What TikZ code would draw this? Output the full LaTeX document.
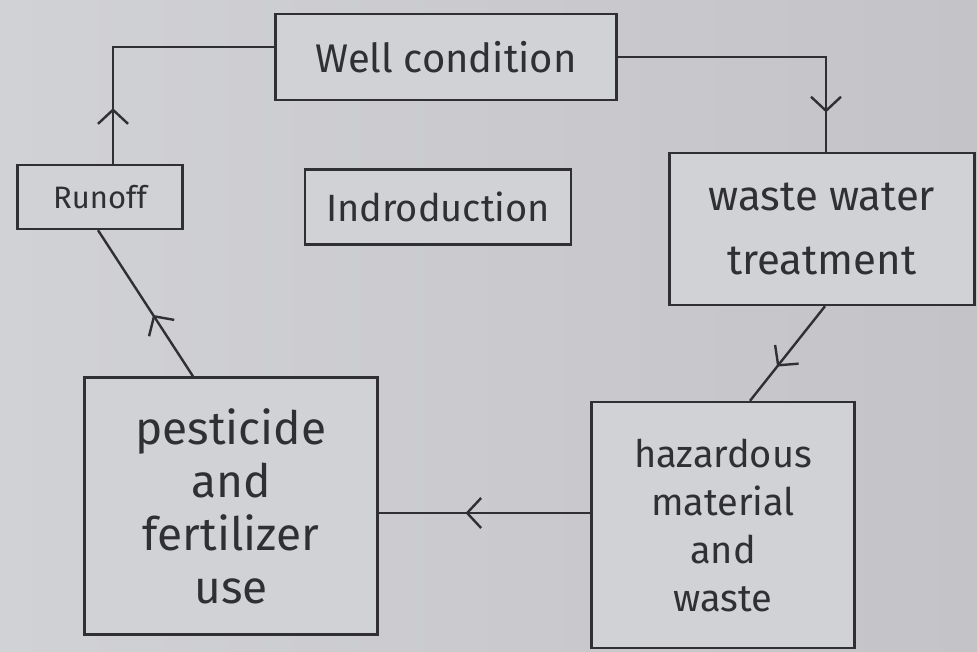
\documentclass[tikz,border=0pt]{standalone}
\usepackage{fontspec}
\setmainfont{Fira Sans}
\usetikzlibrary{arrows.meta,decorations.markings}
\definecolor{paper}{RGB}{209,210,214}
\definecolor{paperdark}{RGB}{196,195,199}
\definecolor{ink}{RGB}{48,48,52}
\tikzset{
  box/.style={draw=ink, line width=2.4pt, fill=paper, inner sep=0pt, align=center,
     text=ink, font=\fontsize{40}{52}\selectfont},
  link/.style={draw=ink, line width=2.4pt},
  midarrow/.style={postaction={decorate}, decoration={markings,
     mark=at position #1 with {\arrow[line width=2.4pt]{Straight Barb[length=14pt,width=30pt]}}}}
}
\begin{document}
\begin{tikzpicture}[x=1pt,y=-1pt]
  \shade[left color=paper, right color=paperdark] (0,0) rectangle (977,651);
  \useasboundingbox (0,0) rectangle (977,651);
  \node[box, minimum width=341pt, minimum height=86pt] (well) at (446,57) {Well condition};
  \node[box, minimum width=165pt, minimum height=64pt, font=\fontsize{31}{34}\selectfont] (runoff) at (100,197) {Runoff};
  \node[box, minimum width=266pt, minimum height=75pt, font=\fontsize{38}{40}\selectfont] (intro) at (438,207) {Indroduction};
  \node[box, minimum width=305pt, minimum height=152pt, font=\fontsize{42}{64}\selectfont] (waste) at (822,229) {waste water\\treatment};
  \node[box, minimum width=263pt, minimum height=246pt, font=\fontsize{38}{48}\selectfont] (haz) at (723,525) {hazardous\\material\\and\\waste};
  \node[box, minimum width=293pt, minimum height=257pt, font=\fontsize{46}{53}\selectfont] (pest) at (231,506) {pesticide\\and\\fertilizer\\use};
  % connectors
  \draw[link, midarrow=0.2] ([xshift=13pt]runoff.north) |- ([yshift=10pt]well.west);
  \draw[link, midarrow=0.87] (well.east) -| ([xshift=4pt]waste.north);
  \draw[link, midarrow=0.64] ([xshift=3pt]waste.south) -- ([xshift=27pt]haz.north);
  \coordinate (hz) at ([yshift=12pt]haz.west);
  \draw[link, midarrow=0.59] (hz) -- (pest.east |- hz);
  \draw[link, midarrow=0.42] ([xshift=-38pt]pest.north) -- ([xshift=-2pt]runoff.south);
\end{tikzpicture}
\end{document}
